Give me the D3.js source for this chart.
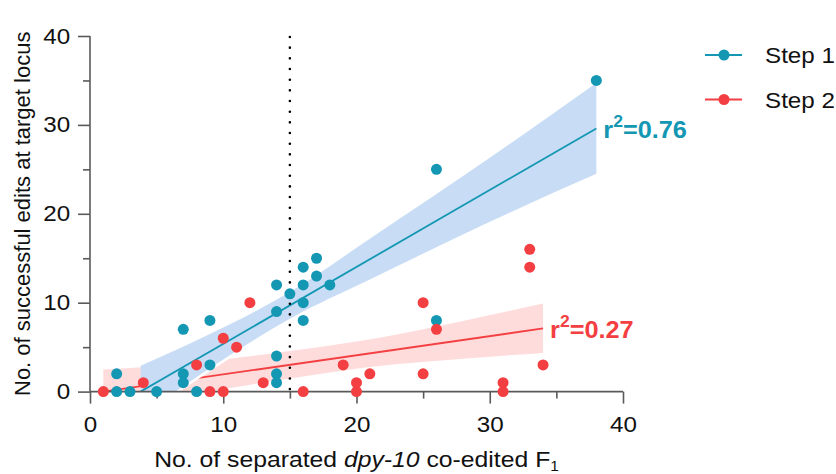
<!DOCTYPE html>
<html>
<head>
<meta charset="utf-8">
<script src="https://cdn.jsdelivr.net/npm/d3@7"></script>
<style>
  body { margin: 0; background: #fff; }
  text { font-family: Arial, "Liberation Sans", sans-serif; }
</style>
</head>
<body>
<div id="chart"></div>
<script>
// points
const step1X = [2, 2, 3, 5, 7, 7, 7, 8, 9, 9, 14, 14, 14, 14, 14, 15, 16, 16, 16, 16, 17, 17, 18, 26, 26, 38];
const step1Y = [2, 0, 0, 0, 7, 2, 1, 0, 8, 3, 12, 9, 4, 2, 1, 11, 14, 12, 10, 8, 15, 13, 12, 25, 8, 35];
const step2X = [1, 4, 8, 9, 10, 10, 11, 12, 13, 16, 19, 20, 20, 21, 25, 25, 26, 31, 31, 33, 33, 34];
const step2Y = [0, 1, 3, 0, 0, 6, 5, 10, 1, 0, 3, 1, 0, 2, 10, 2, 7, 1, 0, 16, 14, 3];

// fitted lines and confidence bands
const line1X = [3.8, 38], line1Y = [0, 29.6];
const band1X = [3.8, 10, 15, 21, 30, 38];
const band1Lo = [-2.7, 3.6, 8.2, 12.6, 19.1, 24.5];
const band1Hi = [2.9, 7.2, 11.2, 17.2, 26.3, 34.7];
const line2X = [1, 34], line2Y = [0, 7.1];
const band2X = [1, 5, 10.5, 16, 21.5, 28, 34];
const band2Lo = [-2.6, -1.2, 0.4, 1.7, 2.85, 3.7, 4.35];
const band2Hi = [2.5, 2.85, 3.7, 4.75, 6.0, 7.95, 9.9];

const xTicks = [0, 10, 20, 30, 40];
const yTicks = [0, 10, 20, 30, 40];
const minorTicks = [5, 15, 25, 35];
const cutoffX = 15;
const seriesNames = ["Step 1", "Step 2"];
const r2Labels = ["0.76", "0.27"];

const teal = "#1397b3", red = "#f43f42";
const blueBand = "#c8ddf5", pinkBand = "#ffdcdc";
const stretch = 1.1; // the figure's lettering is a little wide

const svg = d3.select("#chart").append("svg")
    .attr("width", 836)
    .attr("height", 474);

const x = d3.scaleLinear().domain([0, 40]).range([90, 623]);
const y = d3.scaleLinear().domain([0, 40]).range([391.6, 36]);

svg.append("clipPath").attr("id", "plot")
    .append("rect")
    .attr("x", x(0)).attr("y", y(40))
    .attr("width", x(40) - x(0)).attr("height", y(0) - y(40));

const plot = svg.append("g").attr("clip-path", "url(#plot)");

// dotted cutoff line (sits behind the bands)
svg.append("line")
    .attr("x1", x(cutoffX)).attr("x2", x(cutoffX))
    .attr("y1", y(40) + 1).attr("y2", y(0) - 2)
    .attr("stroke", "#000")
    .attr("stroke-width", 2.6)
    .attr("stroke-linecap", "round")
    .attr("stroke-dasharray", "0 10.67");

const band = (bx, lo, hi) => d3.area()
    .x((d, i) => x(bx[i]))
    .y0((d, i) => y(lo[i]))
    .y1((d, i) => y(hi[i]))
    .curve(d3.curveMonotoneX)(bx);

const edge = (bx, v) => d3.line()
    .x((d, i) => x(bx[i]))
    .y((d, i) => y(v[i]))
    .curve(d3.curveMonotoneX)(bx);

// Step 2 band + line
plot.append("path").attr("d", band(band2X, band2Lo, band2Hi)).attr("fill", pinkBand);
plot.append("line")
    .attr("x1", x(line2X[0])).attr("y1", y(line2Y[0]))
    .attr("x2", x(line2X[1])).attr("y2", y(line2Y[1]))
    .attr("stroke", red).attr("stroke-width", 1.8);

// white rim under the Step 1 band
plot.append("path").attr("d", edge(band1X, band1Lo))
    .attr("fill", "none").attr("stroke", "#fff").attr("stroke-width", 5);

// Step 1 band + line
plot.append("path").attr("d", band(band1X, band1Lo, band1Hi)).attr("fill", blueBand);
plot.append("line")
    .attr("x1", x(line1X[0])).attr("y1", y(line1Y[0]))
    .attr("x2", x(line1X[1])).attr("y2", y(line1Y[1]))
    .attr("stroke", teal).attr("stroke-width", 1.8);

// axes
const axisColor = "#5a5a5a";
const yAxis = svg.append("g").attr("transform", `translate(${x(0)},0)`)
    .call(d3.axisLeft(y).tickValues(yTicks).tickSize(12).tickPadding(6));
svg.append("g").attr("transform", `translate(${x(0)},0)`)
    .call(d3.axisLeft(y).tickValues(minorTicks).tickSize(7).tickFormat(""))
    .call(g => g.select(".domain").remove());

const xAxis = svg.append("g").attr("transform", `translate(0,${y(0)})`)
    .call(d3.axisBottom(x).tickValues(xTicks).tickSize(12).tickPadding(13));
svg.append("g").attr("transform", `translate(0,${y(0)})`)
    .call(d3.axisBottom(x).tickValues(minorTicks).tickSize(7).tickFormat(""))
    .call(g => g.select(".domain").remove());

svg.selectAll(".domain, .tick line")
    .attr("stroke", axisColor).attr("stroke-width", 1.6);
yAxis.select(".domain").attr("d", `M0,${y(40)}V${y(0)}`);
xAxis.select(".domain").attr("d", `M${x(0)},0H${x(40)}`);

svg.selectAll(".tick text")
    .attr("font-size", 22)
    .attr("fill", "#111")
    .attr("transform", `scale(${stretch},1)`)
    .style("font-family", "Arial, 'Liberation Sans', sans-serif");

// points
svg.append("g").selectAll("circle")
    .data(step1X.map((d, i) => [d, step1Y[i]]))
    .join("circle")
    .attr("cx", d => x(d[0])).attr("cy", d => y(d[1]))
    .attr("r", 5.5).attr("fill", teal);
svg.append("g").selectAll("circle")
    .data(step2X.map((d, i) => [d, step2Y[i]]))
    .join("circle")
    .attr("cx", d => x(d[0])).attr("cy", d => y(d[1]))
    .attr("r", 5.5).attr("fill", red);

// r² labels
const r2 = (lx, ly, val, color) => {
    const t = svg.append("g")
        .attr("transform", `translate(${x(lx) + 7},${y(ly) + 10}) scale(${stretch},1)`)
        .append("text")
        .attr("font-size", 23).attr("font-weight", "bold").attr("fill", color);
    t.append("tspan").text("r");
    t.append("tspan").attr("font-size", 16).attr("dy", -11).text("2");
    t.append("tspan").attr("dy", 11).text("=" + val);
};
r2(line1X[1], line1Y[1], r2Labels[0], teal);
r2(line2X[1], line2Y[1], r2Labels[1], red);

// legend
const legend = svg.append("g");
[teal, red].forEach((c, i) => {
    const ly = 55 + i * 44.5;
    legend.append("line").attr("x1", 705).attr("x2", 742).attr("y1", ly).attr("y2", ly)
        .attr("stroke", c).attr("stroke-width", 2);
    legend.append("circle").attr("cx", 724).attr("cy", ly).attr("r", 5.5).attr("fill", c);
    legend.append("g").attr("transform", `translate(765,${ly + 8}) scale(${stretch},1)`)
        .append("text")
        .attr("font-size", 22).attr("fill", "#111").text(seriesNames[i]);
});

// axis titles
const xt = svg.append("g")
    .attr("transform", `translate(${(x(0) + x(40)) / 2},467) scale(${stretch},1)`)
    .append("text")
    .attr("text-anchor", "middle").attr("font-size", 22.5).attr("fill", "#111");
xt.append("tspan").text("No. of separated ");
xt.append("tspan").attr("font-style", "italic").text("dpy-10");
xt.append("tspan").text(" co-edited F");
xt.append("tspan").attr("font-size", 14).attr("dy", 4).text("1");

svg.append("text")
    .attr("transform", `translate(30,${(y(0) + y(40)) / 2}) rotate(-90)`)
    .attr("text-anchor", "middle").attr("font-size", 22).attr("fill", "#111")
    .text("No. of successful edits at target locus");
</script>
</body>
</html>
